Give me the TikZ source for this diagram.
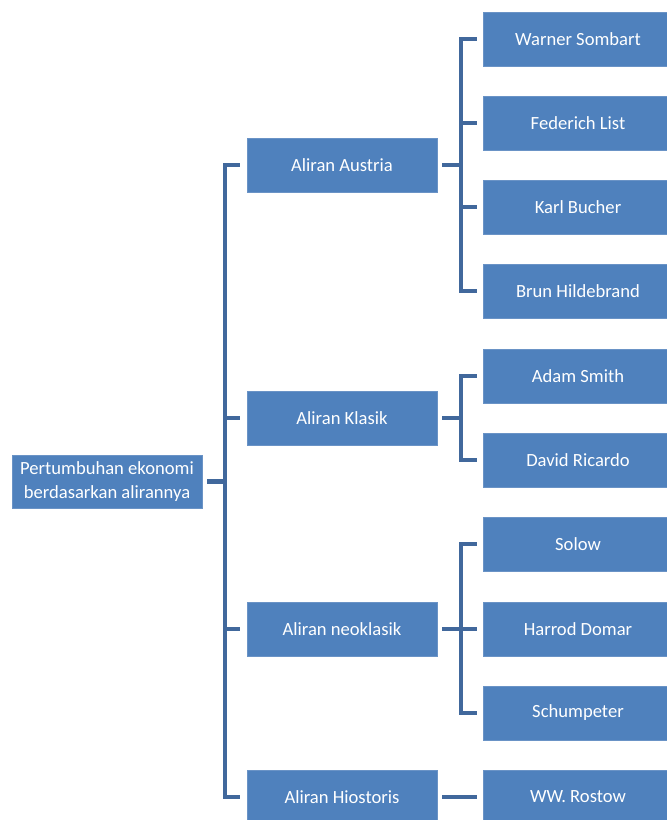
\documentclass[tikz,border=0pt]{standalone}
\usepackage{fontspec}
\setmainfont{Carlito}
\usepackage{tikz}
\usetikzlibrary{arrows}
\definecolor{boxblue}{HTML}{4F81BD}
\definecolor{boxedge}{HTML}{6A93C6}
\definecolor{linkblue}{HTML}{41689C}

\begin{document}
\begin{tikzpicture}[line cap=butt,line join=miter,x=1pt,y=-1pt,
	kotak/.style={draw=boxedge,line width=0.8pt,fill=boxblue,text=white,minimum width=190pt,minimum height=54pt,inner sep=1pt,align=center,font=\fontsize{18.6}{24}\selectfont},
	link/.style={draw=linkblue,line width=4.6pt}]

		%batas gambar
		\useasboundingbox (0,0) rectangle (667,820);

		%akar
		\node[kotak,minimum height=53pt] (akar) at (107,481.5) {Pertumbuhan ekonomi\\berdasarkan alirannya};

		%aliran
		\node[kotak] (austria) at (342,165) {Aliran Austria};
		\node[kotak] (klasik) at (342,418) {Aliran Klasik};
		\node[kotak] (neoklasik) at (342,629) {Aliran neoklasik};
		\node[kotak] (hiostoris) at (342,797) {Aliran Hiostoris};

		%tokoh
		\node[kotak] (sombart) at (578,39) {Warner Sombart};
		\node[kotak] (list) at (578,123) {Federich List};
		\node[kotak] (bucher) at (578,207) {Karl Bucher};
		\node[kotak] (hildebrand) at (578,291) {Brun Hildebrand};
		\node[kotak] (smith) at (578,376) {Adam Smith};
		\node[kotak] (ricardo) at (578,460) {David Ricardo};
		\node[kotak] (solow) at (578,544) {Solow};
		\node[kotak] (domar) at (578,629) {Harrod Domar};
		\node[kotak] (schumpeter) at (578,713) {Schumpeter};
		\node[kotak] (rostow) at (578,797) {WW. Rostow};

		%titik cabang
		\coordinate (c0) at (225,481.5);
		\coordinate (c1) at (461,165);
		\coordinate (c2) at (461,418);
		\coordinate (c3) at (461,629);

		%garis akar ke aliran
		\draw[link,shorten <=5pt] (akar.east) -- (c0);
		\draw[link,shorten <=7pt,shorten >=7pt] (austria.west) -| (c0) |- (hiostoris.west);
		\foreach \a in {klasik,neoklasik}
		{\draw[link,shorten >=7pt] (c0 |- \a) -- (\a.west);}

		%garis aliran ke tokoh
		\draw[link,shorten <=5pt] (austria.east) -- (c1);
		\draw[link,shorten <=6pt,shorten >=6pt] (sombart.west) -| (c1) |- (hildebrand.west);
		\foreach \t in {list,bucher}
		{\draw[link,shorten >=6pt] (c1 |- \t) -- (\t.west);}

		\draw[link,shorten <=5pt] (klasik.east) -- (c2);
		\draw[link,shorten <=6pt,shorten >=6pt] (smith.west) -| (c2) |- (ricardo.west);

		\draw[link,shorten <=5pt] (neoklasik.east) -- (c3);
		\draw[link,shorten <=6pt,shorten >=6pt] (solow.west) -| (c3) |- (schumpeter.west);
		\draw[link,shorten >=6pt] (c3 |- domar) -- (domar.west);

		\draw[link,shorten <=5pt,shorten >=6pt] (hiostoris.east) -- (rostow.west);

	\end{tikzpicture}
\end{document}
